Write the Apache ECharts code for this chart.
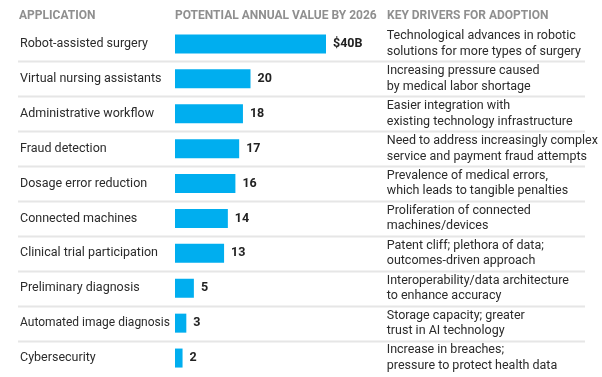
<!DOCTYPE html>
<html>
<head>
<meta charset="utf-8">
<script src="https://cdn.jsdelivr.net/npm/echarts@6/dist/echarts.min.js"></script>
<style>html,body{margin:0;padding:0;background:#fff;}#c{width:602px;height:377px;}</style>
</head>
<body>
<div id="c"></div>
<script>
const headers = ['APPLICATION', 'POTENTIAL ANNUAL VALUE BY 2026', 'KEY DRIVERS FOR ADOPTION'];
const applications = ['Robot-assisted surgery','Virtual nursing assistants','Administrative workflow','Fraud detection','Dosage error reduction','Connected machines','Clinical trial participation','Preliminary diagnosis','Automated image diagnosis','Cybersecurity'];
const values = [40, 20, 18, 17, 16, 14, 13, 5, 3, 2];
const drivers = [
  'Technological advances in robotic\nsolutions for more types of surgery',
  'Increasing pressure caused\nby medical labor shortage',
  'Easier integration with\nexisting technology infrastructure',
  'Need to address increasingly complex\nservice and payment fraud attempts',
  'Prevalence of medical errors,\nwhich leads to tangible penalties',
  'Proliferation of connected\nmachines/devices',
  'Patent cliff; plethora of data;\noutcomes-driven approach',
  'Interoperability/data architecture\nto enhance accuracy',
  'Storage capacity; greater\ntrust in AI technology',
  'Increase in breaches;\npressure to protect health data'
];

const FONT = 'Roboto';
const chart = echarts.init(document.getElementById('c'), null, {renderer: 'canvas'});
const headStyle = {fontFamily: FONT, fontSize: 12, fontWeight: 'bold', color: '#8f8f8f'};
chart.setOption({
  animation: false,
  backgroundColor: '#ffffff',
  title: [
    {text: headers[0], left: 19, top: 10, padding: 0, textStyle: headStyle},
    {text: headers[1], left: 175, top: 10, padding: 0, textStyle: headStyle},
    {text: headers[2], left: 387, top: 10, padding: 0, textStyle: headStyle}
  ],
  grid: {left: 175, top: 26.5, width: 188.75, bottom: 1.5, containLabel: false},
  xAxis: {type: 'value', min: 0, max: 50, show: false},
  yAxis: [
    {type: 'category', inverse: true, data: applications,
     axisLine: {show: false}, axisTick: {show: false}, splitLine: {show: false},
     axisLabel: {align: 'left', margin: 155, fontFamily: FONT, fontSize: 12.5, color: '#2b2b2b',
       formatter: v => v === 'Automated image diagnosis' ? '{s|' + v + '}' : v,
       rich: {s: {fontFamily: FONT, fontSize: 12, color: '#2b2b2b'}}}},
    {type: 'category', inverse: true, position: 'right', data: drivers,
     axisLine: {show: false}, axisTick: {show: false}, splitLine: {show: false},
     axisLabel: {align: 'left', margin: 23, fontFamily: FONT, fontSize: 12.5, color: '#2b2b2b', lineHeight: 15.5}}
  ],
  series: [{
    type: 'bar', data: values, barWidth: 19,
    itemStyle: {color: '#00AEEF'},
    label: {show: true, position: 'right', distance: 7, fontFamily: FONT, fontSize: 12.5, fontWeight: 'bold', color: '#222',
      formatter: p => p.dataIndex === 0 ? '$' + p.value + 'B' : String(p.value)}
  }]
});

// separator lines between rows, positioned through the category scale
const lines = [];
for (let i = 0; i < applications.length - 1; i++) {
  const y1 = chart.convertToPixel({yAxisIndex: 0}, applications[i]);
  const y2 = chart.convertToPixel({yAxisIndex: 0}, applications[i + 1]);
  const y = Math.round((y1 + y2) / 2) + 0.5;
  lines.push({type: 'line', shape: {x1: 18, y1: y, x2: 585, y2: y}, style: {stroke: '#e6e6e6', lineWidth: 2}, silent: true});
}
chart.setOption({graphic: lines});
</script>
</body>
</html>
